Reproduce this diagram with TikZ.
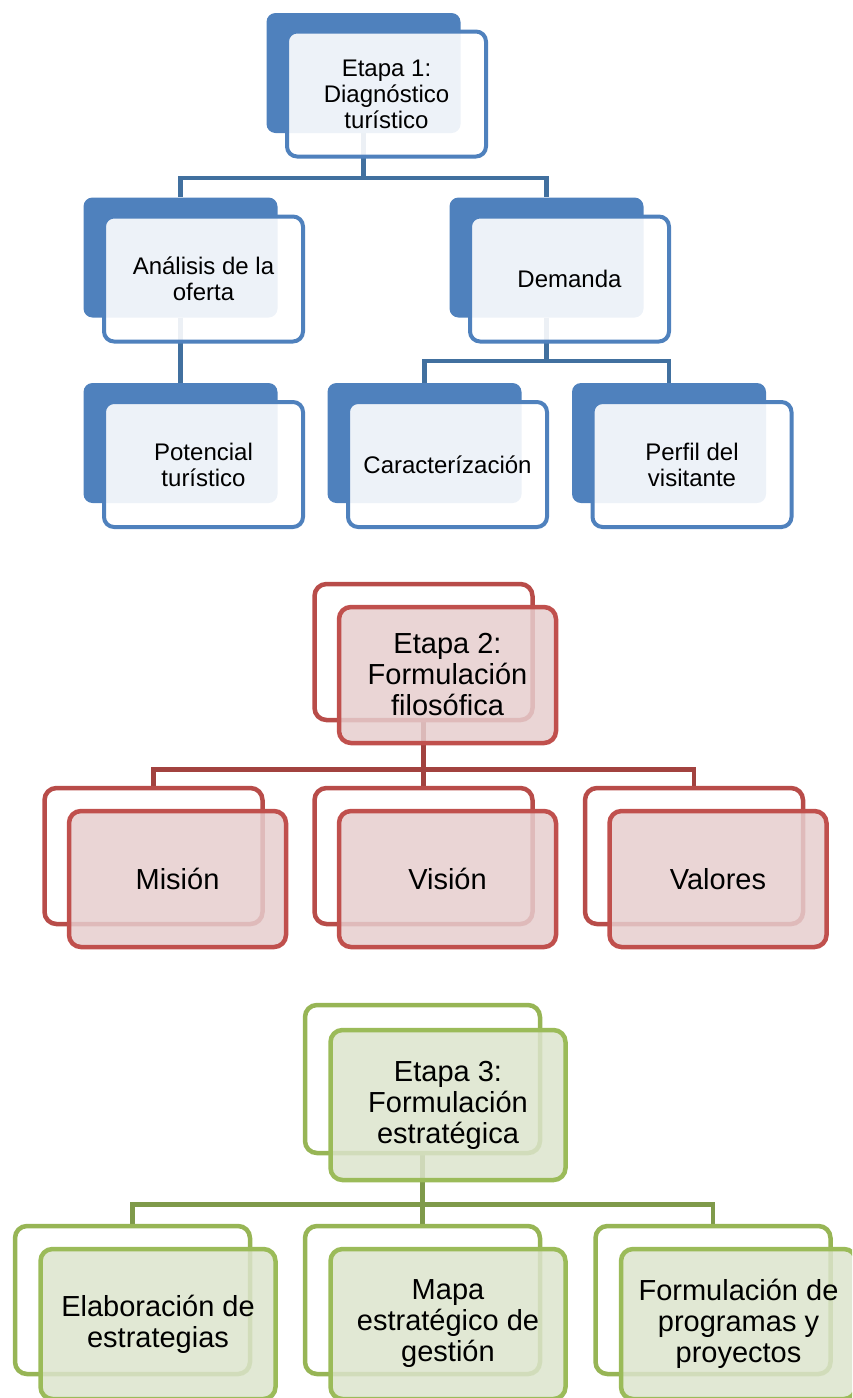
\documentclass[tikz,border=0pt]{standalone}
\usepackage{fontspec}
\setmainfont{Liberation Sans}
\pgfdeclarelayer{bg}
\pgfsetlayers{bg,main}
\definecolor{bdark}{HTML}{4F81BD}
\definecolor{bline}{HTML}{41709F}
\definecolor{rmain}{HTML}{C0504D}
\definecolor{rback}{HTML}{B84C49}
\definecolor{rfill}{HTML}{E6CECE}
\definecolor{rline}{HTML}{A2423F}
\definecolor{gmain}{HTML}{9BBB59}
\definecolor{gback}{HTML}{97B555}
\definecolor{gfill}{HTML}{DCE4CC}
\definecolor{gline}{HTML}{7F9A4A}
\begin{document}
\begin{tikzpicture}[x=1pt,y=1pt,
  bback/.style={rectangle, rounded corners=9pt, fill=bdark, minimum width=194pt, minimum height=120pt, inner sep=0pt},
  bfront/.style={rectangle, rounded corners=10pt, draw=bdark, line width=4pt, fill=white, fill opacity=0.9, text opacity=1, minimum width=199pt, minimum height=125pt, inner sep=0pt, align=center, font=\fontsize{24}{26}\selectfont},
  rbackbox/.style={rectangle, rounded corners=12pt, draw=rback, line width=4.5pt, minimum width=218pt, minimum height=136pt, inner sep=0pt},
  rfront/.style={rectangle, rounded corners=12pt, draw=rmain, line width=4.5pt, fill=rfill, fill opacity=0.85, text opacity=1, minimum width=217pt, minimum height=136pt, inner sep=0pt, align=center, font=\fontsize{29}{31}\selectfont},
  gbackbox/.style={rectangle, rounded corners=12pt, draw=gback, line width=4.5pt, minimum width=235pt, minimum height=148pt, inner sep=0pt},
  gfront/.style={rectangle, rounded corners=12pt, draw=gmain, line width=4.5pt, fill=gfill, fill opacity=0.85, text opacity=1, minimum width=235pt, minimum height=150pt, inner sep=0pt, align=center, font=\fontsize{29}{31}\selectfont},
  bconn/.style={draw=bline, line width=4.5pt},
  rconn/.style={draw=rline, line width=4.5pt},
  gconn/.style={draw=gline, line width=4.5pt}
]
\useasboundingbox (0,0) rectangle (852,-1398);
\clip (0,0) rectangle (852,-1398);

% ---------- Stage 1 (blue) ----------
\node[bback] (e1b) at (363.5,-73) {};
\node[bfront] (e1f) at (386.5,-94) {Etapa 1:\\Diagnóstico\\turístico};
\node[bback] (anb) at (180.5,-257.5) {};
\node[bfront] (anf) at (203.5,-279) {Análisis de la\\oferta};
\node[bback] (deb) at (546.5,-257.5) {};
\node[bfront] (def) at (569.5,-279) {Demanda};
\node[bback] (pob) at (180.5,-443) {};
\node[bfront] (pof) at (203.5,-464.5) {Potencial\\turístico};
\node[bback] (cab) at (424.5,-443) {};
\node[bfront] (caf) at (447.5,-464.5) {Caracterízación};
\node[bback] (peb) at (669,-443) {};
\node[bfront] (pef) at (692,-464.5) {Perfil del\\visitante};

% ---------- Stage 2 (red) ----------
\node[rbackbox] (e2b) at (423.5,-652) {};
\node[rfront] (e2f) at (447.5,-675) {Etapa 2:\\Formulación\\filosófica};
\node[rbackbox] (mib) at (153.5,-856) {};
\node[rfront] (mif) at (177.5,-879) {Misión};
\node[rbackbox] (vib) at (423.5,-856) {};
\node[rfront] (vif) at (447.5,-879) {Visión};
\node[rbackbox] (vab) at (694,-856) {};
\node[rfront] (vaf) at (718,-879) {Valores};

% ---------- Stage 3 (green) ----------
\node[gbackbox] (e3b) at (422.5,-1079) {};
\node[gfront] (e3f) at (448,-1105) {Etapa 3:\\Formulación\\estratégica};
\node[gbackbox] (elb) at (132.5,-1300) {};
\node[gfront] (elf) at (158,-1324) {Elaboración de\\estrategias};
\node[gbackbox] (mab) at (422.5,-1300) {};
\node[gfront] (maf) at (448,-1324) {Mapa\\estratégico de\\gestión};
\node[gbackbox] (fob) at (713,-1300) {};
\node[gfront] (fof) at (738.5,-1324) {Formulación de\\programas y\\proyectos};

% ---------- connectors ----------
\begin{pgfonlayer}{bg}
\draw[bconn] (e1b.south) -- ++(0,-45) -| (anb.north);
\draw[bconn] (e1b.south) -- ++(0,-45) -| (deb.north);
\draw[bconn] (anb.south) -- (pob.north);
\draw[bconn] (deb.south) -- ++(0,-43.5) -| (cab.north);
\draw[bconn] (deb.south) -- ++(0,-43.5) -| (peb.north);

\draw[rconn] (e2b.south) -- ++(0,-47) -| (mib.north);
\draw[rconn] (e2b.south) -- (vib.north);
\draw[rconn] (e2b.south) -- ++(0,-47) -| (vab.north);

\draw[gconn] (e3b.south) -- ++(0,-49) -| (elb.north);
\draw[gconn] (e3b.south) -- (mab.north);
\draw[gconn] (e3b.south) -- ++(0,-49) -| (fob.north);
\end{pgfonlayer}
\end{tikzpicture}
\end{document}
